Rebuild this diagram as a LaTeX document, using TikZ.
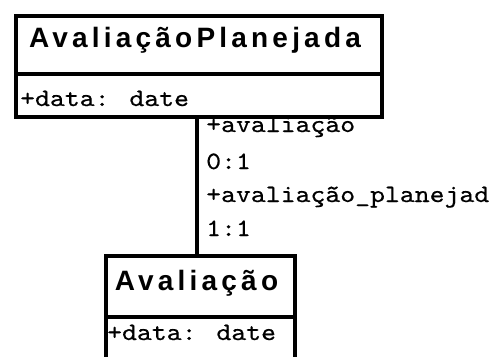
\documentclass[tikz,border=0pt]{standalone}
\usepackage{fontspec}
\newfontfamily\titlefont{Liberation Sans}[LetterSpace=15]
\newfontfamily\umlmono{lmmono10-regular.otf}[FakeStretch=1.135,FakeBold=0.5]
\tikzset{
  classpart/.style={draw=black, line width=4pt, fill=white, inner sep=0pt, anchor=north west},
  classtitle/.style={inner sep=0pt, anchor=base, font=\titlefont\bfseries\fontsize{28}{28}\selectfont},
  monofont/.style={inner sep=0pt, anchor=base west, font=\umlmono\fontsize{25}{25}\selectfont},
  assoc/.style={draw=black, line width=4pt}
}
\begin{document}
\begin{tikzpicture}[x=1pt,y=-1pt]
  \useasboundingbox (0,0) rectangle (494,356);
  \clip (0,0) rectangle (494,356);
  \fill[white] (0,0) rectangle (494,356);
  % top class
  \node[classpart, minimum width=366pt, minimum height=43pt] (tattr) at (14,72) {};
  \node[classpart, minimum width=366pt, minimum height=58pt] (thead) at (14,14) {};
  \node[classtitle] (ttitle) at (195,47) {AvaliaçãoPlanejada};
  \node[monofont] (tdata) at (20,106) {+data: date};
  % bottom class
  \node[classpart, minimum width=189pt, minimum height=70pt] (battr) at (104,315) {};
  \node[classpart, minimum width=189pt, minimum height=61pt] (bhead) at (104,254) {};
  \node[classtitle] (btitle) at (196.5,290) {Avaliação};
  \node[monofont] (bdata) at (107,340) {+data: date};
  % association
  \draw[assoc] (tattr.south -| 197,0) -- (bhead.north -| 197,0);
  \node[monofont] (r1) at (206,132) {+avaliação};
  \node[monofont] (m1) at (206,169) {0:1};
  \node[monofont] (r2) at (206,202) {+avaliação\_planejad};
  \node[monofont] (m2) at (206,236) {1:1};
\end{tikzpicture}
\end{document}
